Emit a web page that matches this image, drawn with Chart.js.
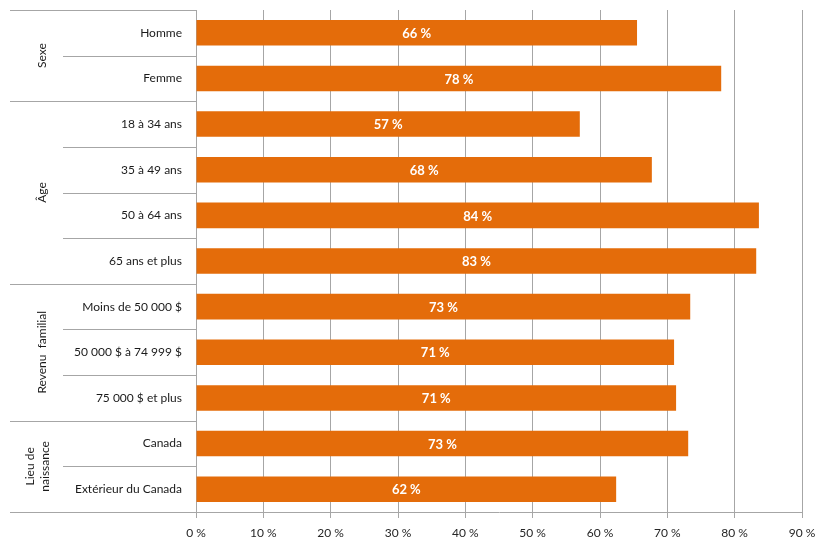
<!DOCTYPE html>
<html lang="fr">
<head>
  <meta charset="UTF-8">
  <title>Répartition en pourcentage</title>
  <script src="https://cdn.jsdelivr.net/npm/chart.js"></script>
  <style>
    body {
      margin: 0;
      padding: 0;
      background: #fff;
    }
    .chart-container {
      position: relative;
      width: 817px;
      height: 540px;
    }
  </style>
</head>
<body>
  <div class="chart-container">
    <canvas id="chart"></canvas>
  </div>

  <script>
    // Data
    const categories = [
      'Homme', 'Femme',
      '18 à 34 ans', '35 à 49 ans', '50 à 64 ans', '65 ans et plus',
      'Moins de 50 000 $', '50 000 $ à 74 999 $', '75 000 $ et plus',
      'Canada', 'Extérieur du Canada'
    ];
    const values = [65.5, 78.0, 57.0, 67.7, 83.6, 83.2, 73.4, 71.0, 71.3, 73.1, 62.4];
    const valueLabels = ['66 %', '78 %', '57 %', '68 %', '84 %', '83 %', '73 %', '71 %', '71 %', '73 %', '62 %'];

    // Groups: label lines, first row index, row count
    const groupNames = [['Sexe'], ['Âge'], ['Revenu  familial'], ['Lieu de', 'naissance']];
    const groupStarts = [0, 2, 6, 9];
    const groupSizes = [2, 4, 3, 2];

    const xTicks = [0, 10, 20, 30, 40, 50, 60, 70, 80, 90];

    const FONT = 'Lato, "Open Sans", sans-serif';
    const LINE = '#a6a6a6';

    // Draws separators, group labels and value labels
    const decorations = {
      id: 'decorations',
      afterDatasetsDraw(chart) {
        const ctx = chart.ctx;
        const y = chart.scales.y;
        const left = chart.chartArea.left;
        const step = y.getPixelForValue(1) - y.getPixelForValue(0);
        const edge = i => y.getPixelForValue(i) - step / 2;

        ctx.save();
        ctx.strokeStyle = LINE;
        ctx.lineWidth = 1;
        for (let i = 0; i <= categories.length; i++) {
          const py = Math.round(edge(i)) + 0.5;
          const isGroup = i === categories.length || groupStarts.includes(i);
          ctx.beginPath();
          ctx.moveTo(isGroup ? 10 : 63, py);
          ctx.lineTo(left, py);
          ctx.stroke();
        }

        // group labels, rotated
        ctx.fillStyle = '#1a1a1a';
        ctx.font = '12px ' + FONT;
        ctx.textAlign = 'center';
        ctx.textBaseline = 'middle';
        groupNames.forEach((lines, g) => {
          const cy = (edge(groupStarts[g]) + edge(groupStarts[g] + groupSizes[g])) / 2;
          const lh = 15;
          const base = lines.length > 1 ? 38 : 42;
          lines.forEach((txt, k) => {
            const cx = base + (k - (lines.length - 1) / 2) * lh;
            ctx.save();
            ctx.translate(cx, cy);
            ctx.rotate(-Math.PI / 2);
            ctx.fillText(txt, 0, 0);
            ctx.restore();
          });
        });

        // value labels in the bars
        ctx.fillStyle = '#fff';
        ctx.font = 'bold 13px ' + FONT;
        chart.getDatasetMeta(0).data.forEach((bar, i) => {
          const cx = (bar.x + bar.base) / 2;
          ctx.fillText(valueLabels[i], cx, bar.y + 1);
        });
        ctx.restore();
      }
    };

    new Chart(document.getElementById('chart'), {
      type: 'bar',
      data: {
        labels: categories,
        datasets: [{
          data: values,
          backgroundColor: '#e46c0a',
          borderWidth: 0,
          barPercentage: 0.56,
          categoryPercentage: 1
        }]
      },
      options: {
        indexAxis: 'y',
        responsive: true,
        maintainAspectRatio: false,
        animation: false,
        layout: { padding: { top: 10, right: 15, left: 0, bottom: 0 } },
        plugins: {
          legend: { display: false },
          tooltip: { enabled: false }
        },
        scales: {
          x: {
            min: 0,
            max: 90,
            afterBuildTicks: s => { s.ticks = xTicks.map(v => ({ value: v })); },
            afterFit: s => {
              s.height = 28;
              s.paddingLeft = 0;
              s.paddingRight = 0;
            },
            grid: {
              color: LINE,
              lineWidth: 1,
              tickLength: 6
            },
            border: { color: LINE },
            ticks: {
              color: '#262626',
              font: { family: FONT, size: 12 },
              padding: 8,
              maxRotation: 0,
              callback: v => v + ' %'
            }
          },
          y: {
            afterFit: s => {
              s.width = 196;
              s.paddingTop = 0;
              s.paddingBottom = 0;
            },
            grid: { display: false },
            border: { color: LINE },
            ticks: {
              color: '#1a1a1a',
              font: { family: FONT, size: 12 },
              padding: 6
            }
          }
        }
      },
      plugins: [decorations]
    });
  </script>
</body>
</html>
